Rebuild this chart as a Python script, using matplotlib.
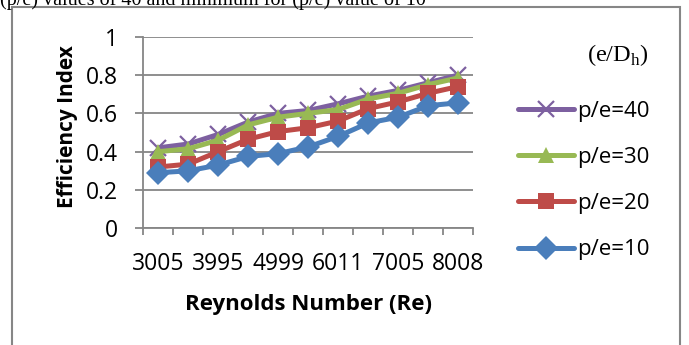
import matplotlib.pyplot as plt
from matplotlib.patches import Rectangle

# Reynolds numbers (every other one is labelled on the axis)
reynolds = [3005, 3498, 3995, 4497, 4999, 5502, 6011, 6508, 7005, 7512, 8008]

# efficiency index for each rib pitch ratio
eff_pe40 = [0.42, 0.44, 0.49, 0.555, 0.60, 0.615, 0.65, 0.69, 0.72, 0.76, 0.80]
eff_pe30 = [0.40, 0.415, 0.46, 0.54, 0.58, 0.60, 0.62, 0.675, 0.705, 0.75, 0.785]
eff_pe20 = [0.32, 0.335, 0.40, 0.465, 0.505, 0.525, 0.56, 0.625, 0.66, 0.705, 0.74]
eff_pe10 = [0.29, 0.30, 0.33, 0.375, 0.39, 0.425, 0.48, 0.55, 0.58, 0.64, 0.655]

series_labels = ['p/e=40', 'p/e=30', 'p/e=20', 'p/e=10']

plt.rcParams['font.family'] = ['Open Sans', 'DejaVu Sans']
plt.rcParams['mathtext.fontset'] = 'custom'
plt.rcParams['mathtext.rm'] = 'Liberation Serif'
grey = '#868686'

fig = plt.figure(figsize=(6.89, 3.45), dpi=100)

# caption of the figure above, cut off by the frame
fig.text(0.0, 1 - 5 / 345, '(p/e) values of 40 and minimum for (p/e) value of 10',
         family='Liberation Serif', fontsize=14.5, va='baseline', ha='left')

# chart frame
fig.patches.append(Rectangle((12 / 689, -0.05), 668 / 689, 1.05 - 7 / 345,
                             transform=fig.transFigure, fill=False,
                             edgecolor=grey, linewidth=1.5))

ax = fig.add_axes([143.3 / 689, 1 - 228.3 / 345, 330 / 689, 191.6 / 345])

x = list(range(len(reynolds)))
styles = [
    (eff_pe40, '#7D60A0', 'x', 11, 1.6),
    (eff_pe30, '#98B954', '^', 12, 0),
    (eff_pe20, '#BE4B48', 's', 12, 0),
    (eff_pe10, '#4A7EBB', 'D', 12, 0),
]
handles = []
for i, (vals, col, mk, ms, mew) in enumerate(styles):
    ln, = ax.plot(x, vals, color=col, linewidth=3.6, marker=mk, markersize=ms,
                  markeredgewidth=mew, markeredgecolor=col, markerfacecolor=col,
                  solid_capstyle='round', zorder=3 + i, label=series_labels[i])
    handles.append(ln)

ax.set_xlim(-0.5, len(reynolds) - 0.5)
ax.set_ylim(0, 1)
ax.set_yticks([0, 0.2, 0.4, 0.6, 0.8, 1.0])
ax.set_yticklabels(['0', '0.2', '0.4', '0.6', '0.8', '1'])
ax.yaxis.grid(True, color=grey, linewidth=1.3)
ax.set_axisbelow(True)

ax.set_xticks(x[::2])
ax.set_xticklabels([str(r) for r in reynolds[::2]])
ax.set_xticks([i - 0.5 for i in range(len(reynolds) + 1)], minor=True)
ax.tick_params(axis='x', which='major', length=0, pad=17, labelsize=16.5)
ax.tick_params(axis='x', which='minor', length=5, width=1.3, color=grey, direction='out')
ax.tick_params(axis='y', length=6, width=1.3, color=grey, pad=12, labelsize=16.5)

for side in ['top', 'right']:
    ax.spines[side].set_visible(False)
for side in ['left', 'bottom']:
    ax.spines[side].set_color(grey)
    ax.spines[side].set_linewidth(1.3)

ax.set_ylabel('Efficiency Index', fontsize=15, fontweight='bold')
ax.yaxis.set_label_coords(-0.198, 0.529)
ax.set_xlabel('Reynolds Number (Re)', fontsize=16, fontweight='bold')
ax.xaxis.set_label_coords(0.5, -0.342)

leg = fig.legend(handles=handles, loc='upper left',
                 bbox_to_anchor=(518 / 689, 1 - 101 / 345),
                 frameon=False, fontsize=16, handlelength=2.5, handletextpad=0.15,
                 labelspacing=1.13, borderpad=0, borderaxespad=0, markerscale=1.0)

fig.text(618 / 689, 1 - 55 / 345, r'(e/D$_{\mathrm{h}}$)', family='Liberation Serif',
         fontsize=17.5, ha='center', va='center')

fig.savefig('out.png', dpi=100)
